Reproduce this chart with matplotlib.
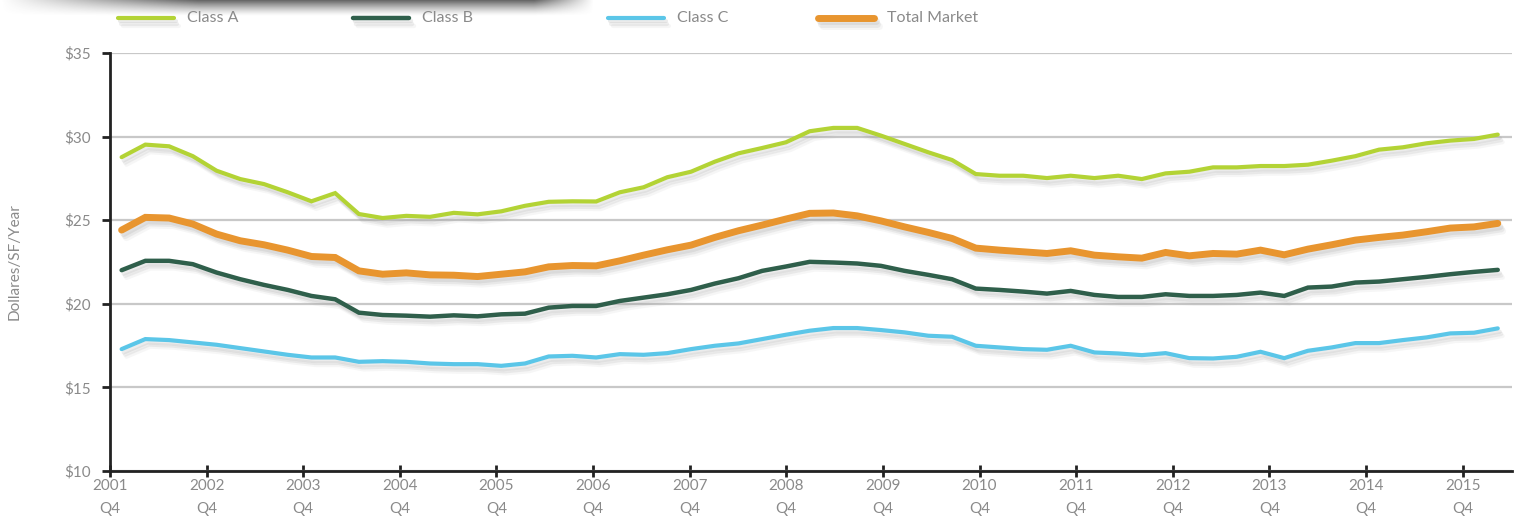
import matplotlib
matplotlib.use("Agg")
import matplotlib.pyplot as plt
import matplotlib.patheffects as pe
from matplotlib.lines import Line2D
import numpy as np

# quarterly asking rents, 2001 Q4 onwards (59 quarters)
series_names = ["Class A", "Class B", "Class C", "Total Market"]

class_a = [28.77, 29.52, 29.42, 28.83, 27.96, 27.46, 27.16, 26.67, 26.13, 26.62,
           25.37, 25.13, 25.26, 25.20, 25.44, 25.35, 25.53, 25.86, 26.10, 26.13,
           26.12, 26.67, 26.97, 27.57, 27.90, 28.50, 29.00, 29.32, 29.66, 30.32,
           30.52, 30.52, 30.06, 29.56, 29.06, 28.60, 27.76, 27.66, 27.66, 27.52,
           27.66, 27.52, 27.66, 27.46, 27.80, 27.90, 28.16, 28.16, 28.24, 28.24,
           28.32, 28.56, 28.83, 29.22, 29.36, 29.60, 29.76, 29.86, 30.12]

class_b = [22.01, 22.57, 22.57, 22.37, 21.87, 21.47, 21.13, 20.83, 20.47, 20.27,
           19.47, 19.33, 19.29, 19.23, 19.31, 19.25, 19.37, 19.41, 19.77, 19.87,
           19.87, 20.17, 20.37, 20.57, 20.83, 21.21, 21.53, 21.97, 22.23, 22.51,
           22.47, 22.41, 22.27, 21.97, 21.73, 21.47, 20.91, 20.83, 20.73, 20.61,
           20.77, 20.53, 20.41, 20.41, 20.57, 20.47, 20.47, 20.53, 20.67, 20.47,
           20.97, 21.03, 21.27, 21.33, 21.47, 21.61, 21.77, 21.91, 22.03]

class_c = [17.29, 17.89, 17.83, 17.69, 17.55, 17.35, 17.15, 16.95, 16.79, 16.79,
           16.53, 16.57, 16.53, 16.43, 16.39, 16.39, 16.29, 16.43, 16.85, 16.89,
           16.79, 16.99, 16.95, 17.05, 17.29, 17.49, 17.63, 17.89, 18.15, 18.39,
           18.55, 18.55, 18.43, 18.29, 18.09, 18.03, 17.49, 17.39, 17.29, 17.25,
           17.49, 17.09, 17.03, 16.93, 17.05, 16.75, 16.73, 16.83, 17.13, 16.75,
           17.19, 17.39, 17.65, 17.65, 17.83, 17.99, 18.23, 18.27, 18.53]

total_market = [24.41, 25.17, 25.13, 24.77, 24.17, 23.77, 23.53, 23.21, 22.83, 22.77,
                21.97, 21.77, 21.85, 21.73, 21.71, 21.63, 21.77, 21.91, 22.21, 22.29,
                22.27, 22.57, 22.91, 23.23, 23.51, 23.97, 24.37, 24.71, 25.07, 25.41,
                25.43, 25.26, 24.96, 24.60, 24.27, 23.91, 23.33, 23.21, 23.11, 23.01,
                23.17, 22.91, 22.81, 22.73, 23.07, 22.87, 23.01, 22.97, 23.21, 22.93,
                23.27, 23.53, 23.81, 23.97, 24.11, 24.31, 24.53, 24.60, 24.81]

years = list(range(2001, 2016))
x_labels = [f"{y}\nQ4" for y in years]
y_ticks = [10, 15, 20, 25, 30, 35]

colors = ["#b3d335", "#2f5f4b", "#5bc6e8", "#e8952f"]
widths = [3.0, 3.2, 3.0, 5.0]

plt.rcParams['font.family'] = ['Lato', 'DejaVu Sans']
text_gray = "#8a8a8a"


def main():
    fig = plt.figure(figsize=(15.21, 5.18), dpi=100)
    ax = fig.add_axes([110 / 1521, 1 - 471 / 518, (1512 - 110) / 1521, (471 - 53) / 518])

    x = np.arange(len(class_a))
    # soft drop shadow: a few faint offset copies
    shadow = [pe.SimpleLineShadow(offset=(1.5, -2.5), shadow_color="#999999", alpha=0.18),
              pe.SimpleLineShadow(offset=(2.5, -4), shadow_color="#999999", alpha=0.14),
              pe.SimpleLineShadow(offset=(3.5, -5.5), shadow_color="#aaaaaa", alpha=0.10),
              pe.Normal()]

    all_series = [class_a, class_b, class_c, total_market]
    for vals, col, lw in zip(all_series, colors, widths):
        ax.plot(x, vals, color=col, lw=lw, solid_joinstyle="miter",
                solid_capstyle="round", path_effects=shadow, zorder=3)

    # axes look
    ax.set_ylim(10, 35)
    ax.set_xlim(-0.49, 58.6)
    ax.set_yticks(y_ticks)
    ax.set_yticklabels([f"${v}" for v in y_ticks])
    ax.grid(axis="y", color="#c8c8c8", lw=1.6, zorder=1)
    ax.set_axisbelow(True)

    tick_pos = -0.49 + 4.072 * np.arange(len(years))
    ax.set_xticks(tick_pos)
    ax.set_xticklabels(x_labels, linespacing=1.75)

    for side in ["top", "right"]:
        ax.spines[side].set_visible(False)
    for side in ["left", "bottom"]:
        ax.spines[side].set_linewidth(2)
        ax.spines[side].set_color("#222222")
        ax.spines[side].set_zorder(4)

    ax.tick_params(axis="y", direction="out", length=6, width=2, color="#222222",
                   labelsize=11, labelcolor=text_gray, pad=8)
    ax.tick_params(axis="x", direction="inout", length=8, width=2, color="#222222",
                   labelsize=11, labelcolor=text_gray, pad=2)

    ax.set_ylabel("Dollares/SF/Year", color=text_gray, fontsize=11)
    ax.yaxis.set_label_coords(-0.063, 0.5)

    # legend along the top, drawn by hand to match spacing
    leg_x = [118, 353, 608, 818]
    leg_y = 1 - 18 / 518
    for name, col, lw, lx in zip(series_names, colors, widths, leg_x):
        ln = Line2D([lx / 1521, (lx + 56) / 1521], [leg_y, leg_y],
                    transform=fig.transFigure, color=col, lw=lw,
                    solid_capstyle="round", path_effects=shadow)
        fig.add_artist(ln)
        fig.text((lx + 69) / 1521, leg_y, name, color=text_gray, fontsize=11.5,
                 va="center", ha="left")

    # shadow of the title box cut off at the top
    sh = fig.add_axes([0, 1 - 16 / 518, 595 / 1521, 16 / 518])
    grad = np.linspace(0.9, 0, 50)[:, None] ** 1.3 * np.ones((1, 200))
    rgba = np.zeros((50, 200, 4))
    rgba[..., :3] = 0.3
    edge = np.clip(np.linspace(0, 3, 200), 0, 1)[None, :] * np.clip(np.linspace(10, 0, 200), 0, 1)[None, :]
    rgba[..., 3] = grad * edge
    sh.imshow(rgba, aspect="auto", interpolation="bilinear")
    sh.axis("off")

    fig.savefig("out.png", dpi=100)


if __name__ == "__main__":
    main()
